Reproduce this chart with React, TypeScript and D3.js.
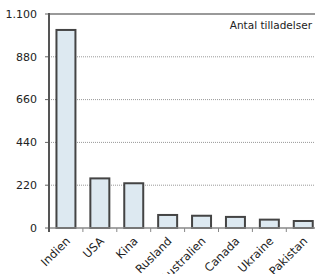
import React from "react";
import * as d3 from "d3";

const categories = ["Indien", "USA", "Kina", "Rusland", "Australien", "Canada", "Ukraine", "Pakistan"];
const values = [1018, 255, 230, 67, 63, 57, 43, 36];
const yTicks = [0, 220, 440, 660, 880, 1100];
const yTickLabels = ["0", "220", "440", "660", "880", "1.100"];
const title = "Antal tilladelser";

export default function App() {
  const W = 315, H = 274;
  const left = 49, top = 14, bottom = 228;
  const step = 33.9;
  const x = d3.scaleBand<string>().domain(categories).range([left, left + step * categories.length]).paddingInner(0.44).paddingOuter(0.22);
  const y = d3.scaleLinear().domain([0, 1100]).range([bottom, top]);
  const font = "'DejaVu Sans', Verdana, sans-serif";
  return (
    <svg width={W} height={H} style={{ position: "absolute", left: 0, top: 0, background: "#fff" }}>
      {yTicks.slice(1, -1).map((t) => (
        <line key={t} x1={left} x2={W} y1={y(t)} y2={y(t)} stroke="#999" strokeWidth={1} strokeDasharray="1,1" />
      ))}
      <line x1={left} x2={W} y1={top} y2={top} stroke="#999" strokeWidth={2} />
      {yTicks.map((t, i) => (
        <g key={t}>
          <line x1={left - 4} x2={left} y1={y(t)} y2={y(t)} stroke="#666" strokeWidth={1} />
          <text x={37} y={y(t)} dy="0.35em" textAnchor="end" fontFamily={font} fontSize={11} fill="#222">{yTickLabels[i]}</text>
        </g>
      ))}
      {categories.map((c, i) => (
        <rect key={c} x={x(c)!} y={y(values[i])} width={x.bandwidth()} height={bottom - y(values[i])} fill="#dde9f1" stroke="#444" strokeWidth={2} />
      ))}
      <line x1={left} x2={W} y1={bottom} y2={bottom} stroke="#888" strokeWidth={1.5} />
      {categories.map((c, i) => (
        <line key={c} x1={left + step * i} x2={left + step * i} y1={bottom} y2={bottom + 4} stroke="#888" strokeWidth={1} />
      ))}
      <line x1={left} x2={left} y1={top - 1} y2={bottom + 4} stroke="#555" strokeWidth={2} />
      {categories.map((c) => {
        const cx = x(c)! + x.bandwidth() / 2 + 2;
        return (
          <text key={c} transform={`translate(${cx},${bottom + 11}) rotate(-45)`} textAnchor="end" dy="0.35em" fontFamily={font} fontSize={11.5} fill="#222">{c}</text>
        );
      })}
      <text x={312} y={29} textAnchor="end" fontFamily={font} fontSize={10.5} fill="#222">{title}</text>
    </svg>
  );
}
